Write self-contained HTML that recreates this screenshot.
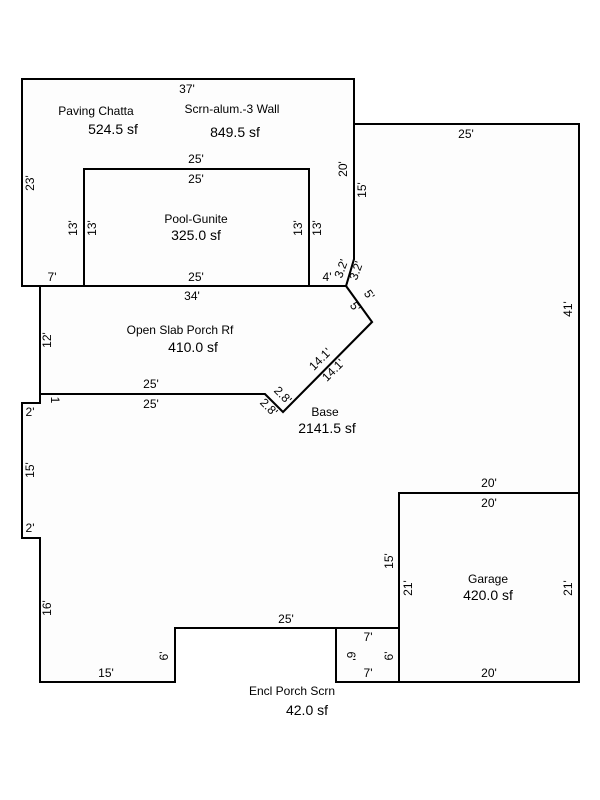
<!DOCTYPE html>
<html><head><style>
html,body{margin:0;padding:0;background:#fff;}
svg{display:block;}
text{font-family:"Liberation Sans",sans-serif;font-size:12px;fill:#000;}
.b{font-size:14px;}
</style></head><body>
<svg width="600" height="800" viewBox="0 0 600 800">
<g fill="#fdfdfd" stroke="#000" stroke-width="2" stroke-linejoin="miter">
<path d="M354,124 L579,124 L579,682 L399,682 L399,628 L175,628 L175,682 L40,682 L40,538 L22,538 L22,403 L40,403 L40,394 L265,394 L283,412 L372,322 L346,286 L354,259 Z"/>
<path d="M40,286 L346,286 L372,322 L283,412 L265,394 L40,394 Z"/>
<path d="M22,79 L354,79 L354,259 L346,286 L22,286 Z"/>
<rect x="84" y="169" width="225" height="117"/>
<rect x="399" y="493" width="180" height="189"/>
<rect x="336" y="628" width="63" height="54"/>
</g>
<g text-anchor="middle">
<text x="187" y="93">37'</text>
<text x="466" y="138">25'</text>
<text x="196" y="163">25'</text>
<text x="196" y="183">25'</text>
<text x="196" y="281">25'</text>
<text x="192" y="300">34'</text>
<text x="52" y="281">7'</text>
<text x="327" y="281">4'</text>
<text x="151" y="388">25'</text>
<text x="151" y="408">25'</text>
<text x="489" y="487">20'</text>
<text x="489" y="507">20'</text>
<text x="286" y="623">25'</text>
<text x="368" y="641">7'</text>
<text x="368" y="677">7'</text>
<text x="106" y="677">15'</text>
<text x="489" y="677">20'</text>
<text x="96" y="115">Paving Chatta</text>
<text x="113" y="134" class="b">524.5 sf</text>
<text x="232" y="113">Scrn-alum.-3 Wall</text>
<text x="235" y="137" class="b">849.5 sf</text>
<text x="196" y="223">Pool-Gunite</text>
<text x="196" y="240" class="b">325.0 sf</text>
<text x="180" y="334">Open Slab Porch Rf</text>
<text x="193" y="352" class="b">410.0 sf</text>
<text x="325" y="416">Base</text>
<text x="327" y="433" class="b">2141.5 sf</text>
<text x="488" y="583">Garage</text>
<text x="488" y="600" class="b">420.0 sf</text>
<text x="292" y="695">Encl Porch Scrn</text>
<text x="307" y="715" class="b">42.0 sf</text>
<text x="30" y="416">2'</text>
<text x="30" y="532">2'</text>
</g>
<g text-anchor="middle">
<text transform="translate(34,183) rotate(-90)">23'</text>
<text transform="translate(77,228) rotate(-90)">13'</text>
<text transform="translate(96,228) rotate(-90)">13'</text>
<text transform="translate(302,228) rotate(-90)">13'</text>
<text transform="translate(321,228) rotate(-90)">13'</text>
<text transform="translate(347,169) rotate(-90)">20'</text>
<text transform="translate(366,190) rotate(-90)">15'</text>
<text transform="translate(51,340) rotate(-90)">12'</text>
<text transform="translate(51,400) rotate(90)">1</text>
<text transform="translate(34,470) rotate(-90)">15'</text>
<text transform="translate(51,608) rotate(-90)">16'</text>
<text transform="translate(168,656) rotate(-90)">6'</text>
<text transform="translate(347,656) rotate(90)">6'</text>
<text transform="translate(393,656) rotate(-90)">6'</text>
<text transform="translate(393,561) rotate(-90)">15'</text>
<text transform="translate(412,588) rotate(-90)">21'</text>
<text transform="translate(572,588) rotate(-90)">21'</text>
<text transform="translate(572,309) rotate(-90)">41'</text>
<text transform="translate(345,270) rotate(-70)">3.2'</text>
<text transform="translate(360,272) rotate(-70)">3.2'</text>
<text transform="translate(352,309) rotate(55)">5'</text>
<text transform="translate(366,297) rotate(55)">5'</text>
<text transform="translate(323,362) rotate(-45)">14.1'</text>
<text transform="translate(336,373) rotate(-45)">14.1'</text>
<text transform="translate(280,398) rotate(45)">2.8'</text>
<text transform="translate(266,410) rotate(45)">2.8'</text>
</g>
</svg>
</body></html>
